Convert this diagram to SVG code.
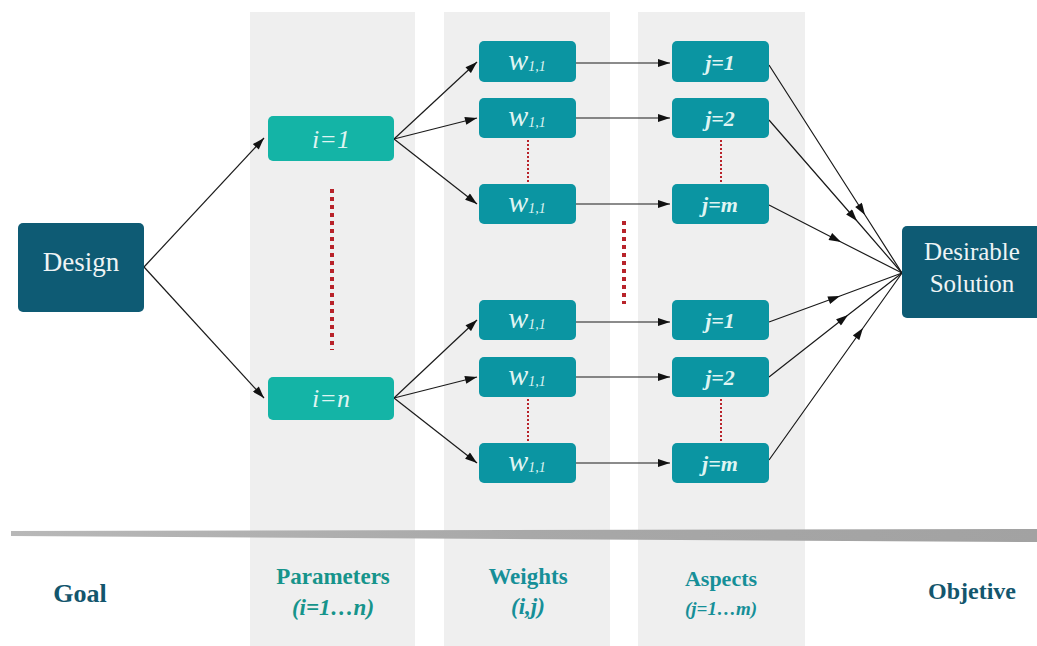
<svg xmlns="http://www.w3.org/2000/svg" width="1037" height="646" viewBox="0 0 1037 646">
  <defs>
    <marker id="arrow" viewBox="0 0 12 8" refX="12" refY="4" markerWidth="13" markerHeight="8" markerUnits="userSpaceOnUse" orient="auto">
      <path d="M0,0 L12,4 L0,8 Z" fill="#111"/>
    </marker>
    <linearGradient id="barGrad" x1="0" y1="0" x2="1" y2="0">
      <stop offset="0" stop-color="#b8b8b8"/>
      <stop offset="0.5" stop-color="#a8a8a8"/>
      <stop offset="1" stop-color="#a2a2a2"/>
    </linearGradient>
    <style>
      .col { fill: #efefef; }
      .dark { fill: #0e5b74; }
      .param { fill: #14b4a6; }
      .cell { fill: #0b95a2; }
      .edge { fill: none; stroke: #1a1a1a; stroke-width: 1.2; }
      .dots { fill: none; stroke: #b8232a; stroke-width: 2; stroke-dasharray: 2 2; }
      .dotsBig { fill: none; stroke: #b8232a; stroke-width: 4; stroke-dasharray: 4 4; }
      .t-dark { font-family: "Liberation Serif", "DejaVu Serif", serif; fill: #eef4f5; text-anchor: middle; }
      .t-box { font-family: "Liberation Serif", "DejaVu Serif", serif; font-style: italic; fill: #dff4f2; text-anchor: middle; }
      .lbl { font-family: "Liberation Serif", "DejaVu Serif", serif; font-weight: bold; text-anchor: middle; }
    </style>
  </defs>

  <!-- column bands -->
  <rect class="col" x="250" y="12" width="165" height="634"/>
  <rect class="col" x="444" y="12" width="166" height="634"/>
  <rect class="col" x="638" y="12" width="167" height="634"/>

  <!-- baseline bar -->
  <polygon points="11,531 1037,529 1037,542 11,536" fill="url(#barGrad)"/>

  <!-- connectors -->
  <g id="connectors">
    <path class="edge" d="M144,267 L264,138" marker-end="url(#arrow)"/>
    <path class="edge" d="M144,267 L264,398" marker-end="url(#arrow)"/>

    <path class="edge" d="M394,139 L477,62" marker-end="url(#arrow)"/>
    <path class="edge" d="M394,139 L477,118" marker-end="url(#arrow)"/>
    <path class="edge" d="M394,139 L477,204" marker-end="url(#arrow)"/>
    <path class="edge" d="M394,398 L477,320" marker-end="url(#arrow)"/>
    <path class="edge" d="M394,398 L477,377" marker-end="url(#arrow)"/>
    <path class="edge" d="M394,398 L477,463" marker-end="url(#arrow)"/>

    <path class="edge" d="M576,63 L670,63" marker-end="url(#arrow)"/>
    <path class="edge" d="M576,118 L670,118" marker-end="url(#arrow)"/>
    <path class="edge" d="M576,204 L670,204" marker-end="url(#arrow)"/>
    <path class="edge" d="M576,322 L670,322" marker-end="url(#arrow)"/>
    <path class="edge" d="M576,377 L670,377" marker-end="url(#arrow)"/>
    <path class="edge" d="M576,463 L670,463" marker-end="url(#arrow)"/>

    <path class="edge" d="M769,65 L865,215 L902,273" marker-mid="url(#arrow)"/>
    <path class="edge" d="M769,120 L857,221 L902,273" marker-mid="url(#arrow)"/>
    <path class="edge" d="M769,205 L841,242 L902,273" marker-mid="url(#arrow)"/>
    <path class="edge" d="M769,322 L840,296 L902,273" marker-mid="url(#arrow)"/>
    <path class="edge" d="M769,377 L848,315 L902,273" marker-mid="url(#arrow)"/>
    <path class="edge" d="M769,460 L863,328 L902,273" marker-mid="url(#arrow)"/>

    <!-- ellipsis dots -->
    <line class="dotsBig" x1="332" y1="189" x2="332" y2="350"/>
    <line class="dotsBig" x1="624" y1="221" x2="624" y2="304"/>
    <line class="dots" x1="528" y1="140" x2="528" y2="182"/>
    <line class="dots" x1="721" y1="140" x2="721" y2="182"/>
    <line class="dots" x1="528" y1="399" x2="528" y2="441"/>
    <line class="dots" x1="721" y1="399" x2="721" y2="441"/>
  </g>

  <!-- goal -->
  <g id="design">
    <rect class="dark" x="18" y="223" width="126" height="89" rx="5"/>
    <text class="t-dark" x="81" y="271" font-size="27">Design</text>
  </g>

  <!-- parameters -->
  <g id="param-1">
    <rect class="param" x="268" y="116" width="126" height="45" rx="5"/>
    <text class="t-box" x="331" y="148" font-size="26">i=1</text>
  </g>
  <g id="param-n">
    <rect class="param" x="268" y="377" width="126" height="43" rx="5"/>
    <text class="t-box" x="331" y="407" font-size="26">i=n</text>
  </g>

  <!-- weights -->
  <g id="w-1-1">
    <rect class="cell" x="479" y="41" width="97" height="41" rx="5"/>
    <text class="t-box" x="527" y="70"><tspan font-size="30">w</tspan><tspan font-size="14" dy="1">1,1</tspan></text>
  </g>
  <g id="w-1-2">
    <rect class="cell" x="479" y="98" width="97" height="40" rx="5"/>
    <text class="t-box" x="527" y="126"><tspan font-size="30">w</tspan><tspan font-size="14" dy="1">1,1</tspan></text>
  </g>
  <g id="w-1-m">
    <rect class="cell" x="479" y="184" width="97" height="40" rx="5"/>
    <text class="t-box" x="527" y="212"><tspan font-size="30">w</tspan><tspan font-size="14" dy="1">1,1</tspan></text>
  </g>
  <g id="w-n-1">
    <rect class="cell" x="479" y="300" width="97" height="40" rx="5"/>
    <text class="t-box" x="527" y="328"><tspan font-size="30">w</tspan><tspan font-size="14" dy="1">1,1</tspan></text>
  </g>
  <g id="w-n-2">
    <rect class="cell" x="479" y="357" width="97" height="40" rx="5"/>
    <text class="t-box" x="527" y="385"><tspan font-size="30">w</tspan><tspan font-size="14" dy="1">1,1</tspan></text>
  </g>
  <g id="w-n-m">
    <rect class="cell" x="479" y="443" width="97" height="40" rx="5"/>
    <text class="t-box" x="527" y="471"><tspan font-size="30">w</tspan><tspan font-size="14" dy="1">1,1</tspan></text>
  </g>

  <!-- aspects -->
  <g id="aspect-1-1">
    <rect class="cell" x="672" y="41" width="97" height="41" rx="5"/>
    <text class="t-box" x="720" y="70" font-size="22" font-weight="bold">j=1</text>
  </g>
  <g id="aspect-1-2">
    <rect class="cell" x="672" y="98" width="97" height="40" rx="5"/>
    <text class="t-box" x="720" y="126" font-size="22" font-weight="bold">j=2</text>
  </g>
  <g id="aspect-1-m">
    <rect class="cell" x="672" y="184" width="97" height="40" rx="5"/>
    <text class="t-box" x="720" y="212" font-size="22" font-weight="bold">j=m</text>
  </g>
  <g id="aspect-n-1">
    <rect class="cell" x="672" y="300" width="97" height="40" rx="5"/>
    <text class="t-box" x="720" y="328" font-size="22" font-weight="bold">j=1</text>
  </g>
  <g id="aspect-n-2">
    <rect class="cell" x="672" y="357" width="97" height="40" rx="5"/>
    <text class="t-box" x="720" y="385" font-size="22" font-weight="bold">j=2</text>
  </g>
  <g id="aspect-n-m">
    <rect class="cell" x="672" y="443" width="97" height="40" rx="5"/>
    <text class="t-box" x="720" y="471" font-size="22" font-weight="bold">j=m</text>
  </g>

  <!-- objective -->
  <g id="solution">
    <rect class="dark" x="902" y="226" width="140" height="92" rx="5"/>
    <text class="t-dark" x="972" y="260" font-size="25">Desirable</text>
    <text class="t-dark" x="972" y="292" font-size="25">Solution</text>
  </g>

  <!-- stage labels -->
  <g id="labels">
    <text class="lbl" x="80" y="602" font-size="26" fill="#13566d">Goal</text>
    <text class="lbl" x="333" y="584" font-size="23" fill="#16948b">Parameters</text>
    <text class="lbl" x="333" y="615" font-size="23" font-style="italic" fill="#16948b">(i=1…n)</text>
    <text class="lbl" x="528" y="584" font-size="23" fill="#168f98">Weights</text>
    <text class="lbl" x="528" y="614" font-size="23" font-style="italic" fill="#168f98">(i,j)</text>
    <text class="lbl" x="721" y="586" font-size="22" fill="#168f98">Aspects</text>
    <text class="lbl" x="721" y="615" font-size="19" font-style="italic" fill="#168f98">(j=1…m)</text>
    <text class="lbl" x="972" y="599" font-size="24" fill="#13566d">Objetive</text>
  </g>
</svg>
